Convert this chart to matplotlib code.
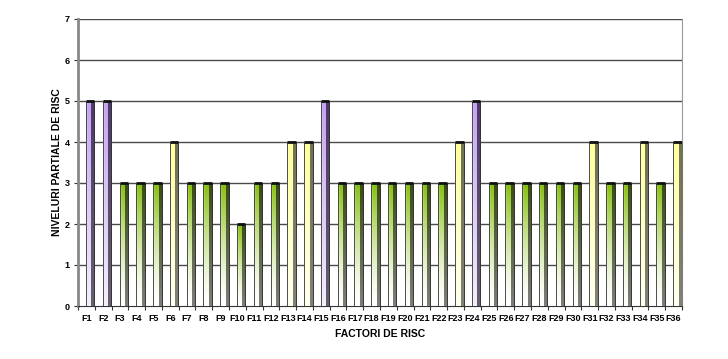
import numpy as np
import matplotlib
matplotlib.use("Agg")
import matplotlib.pyplot as plt
from matplotlib.colors import to_rgb
from matplotlib.patches import Rectangle

categories = [f"F{i}" for i in range(1, 37)]
values = [5, 5, 3, 3, 3, 4, 3, 3, 3, 2, 3, 3, 4, 4, 5, 3, 3, 3, 3, 3, 3, 3,
          4, 5, 3, 3, 3, 3, 3, 3, 4, 3, 3, 4, 3, 4]
y_ticks = [0, 1, 2, 3, 4, 5, 6, 7]
x_title = "FACTORI DE RISC"
y_title = "NIVELURI PARTIALE DE RISC"

# style by level
front_top = {5: "#c4a2f0", 4: "#ffff9a", 3: "#86c010", 2: "#86c010"}
front_bot = {5: "#f4eefc", 4: "#fffff0", 3: "#ffffff", 2: "#ffffff"}
side_top = {5: "#4e3a6a", 4: "#727254", 3: "#3a4c14", 2: "#3a4c14"}
side_bot = {5: "#66606e", 4: "#828278", 3: "#7e7e7a", 2: "#7e7e7a"}

plt.rcParams['font.family'] = ['Liberation Sans', 'DejaVu Sans']

fig = plt.figure(figsize=(7.28, 3.59), dpi=100)
ax = fig.add_axes([78/728, 1-306/359, (682-78)/728, (306-19)/359])
ax.set_facecolor("white")

n = len(categories)
x = np.arange(n)


def grad_img(top, bot, nrows=64, ncols=8, edge=True, gamma=1.0):
    t = np.array(to_rgb(top)); b = np.array(to_rgb(bot))
    f = np.linspace(1, 0, nrows)[:, None] ** gamma  # row 0 = top
    col = f * t + (1 - f) * b
    img = np.repeat(col[:, None, :], ncols, axis=1)
    if edge:
        w = np.ones(ncols); w[0] = 0.45; w[1] = 0.75
        img = 1 - (1 - img) * w[None, :, None]
    return img

for xi, v in zip(x, values):
    f0, f1 = xi - 0.02, xi + 0.30
    s1 = xi + 0.48
    g = 1.4 if v <= 3 else 1.0
    ax.imshow(grad_img(front_top[v], front_bot[v], gamma=g), extent=(f0, f1, 0, v),
              origin="upper", aspect="auto", interpolation="bilinear", zorder=3)
    ax.imshow(grad_img(side_top[v], side_bot[v], edge=False), extent=(f1, s1, 0, v),
              origin="upper", aspect="auto", interpolation="bilinear", zorder=3)
    ax.add_patch(Rectangle((f0, 0), s1 - f0, v, fill=False, ec="#303030", lw=0.6, zorder=4))
    ax.plot([f0, s1], [v, v], color="#101010", lw=2.0, zorder=5, solid_capstyle="butt")

ax.set_xlim(-0.5, n - 0.5)
ax.set_ylim(0, 7)
ax.set_yticks(y_ticks)
ax.set_yticklabels([str(t) for t in y_ticks], fontsize=6.5, fontweight="bold")
for t in y_ticks[1:]:
    ax.axhline(t, color="#4a4a4a", lw=1.0, zorder=1)

ax.set_xticks(x)
ax.set_xticklabels(categories, fontsize=6.5, fontweight="bold")
ax.set_xticks(np.arange(n + 1) - 0.5, minor=True)
ax.tick_params(axis="x", which="major", length=0, pad=6)
ax.tick_params(axis="x", which="minor", length=3, width=0.8, color="#333333")
ax.tick_params(axis="y", length=3, width=0.8, color="#333333", pad=3)

ax.spines["top"].set_visible(False)
ax.spines["right"].set_color("#999999")
ax.spines["left"].set_color("#888888")
ax.spines["left"].set_linewidth(2.0)
ax.spines["bottom"].set_color("#333333")

ax.set_xlabel(x_title, fontsize=7.5, fontweight="bold", labelpad=4)
ax.set_ylabel(y_title, fontsize=7.5, fontweight="bold", labelpad=2)

fig.savefig("out.png", dpi=100)
